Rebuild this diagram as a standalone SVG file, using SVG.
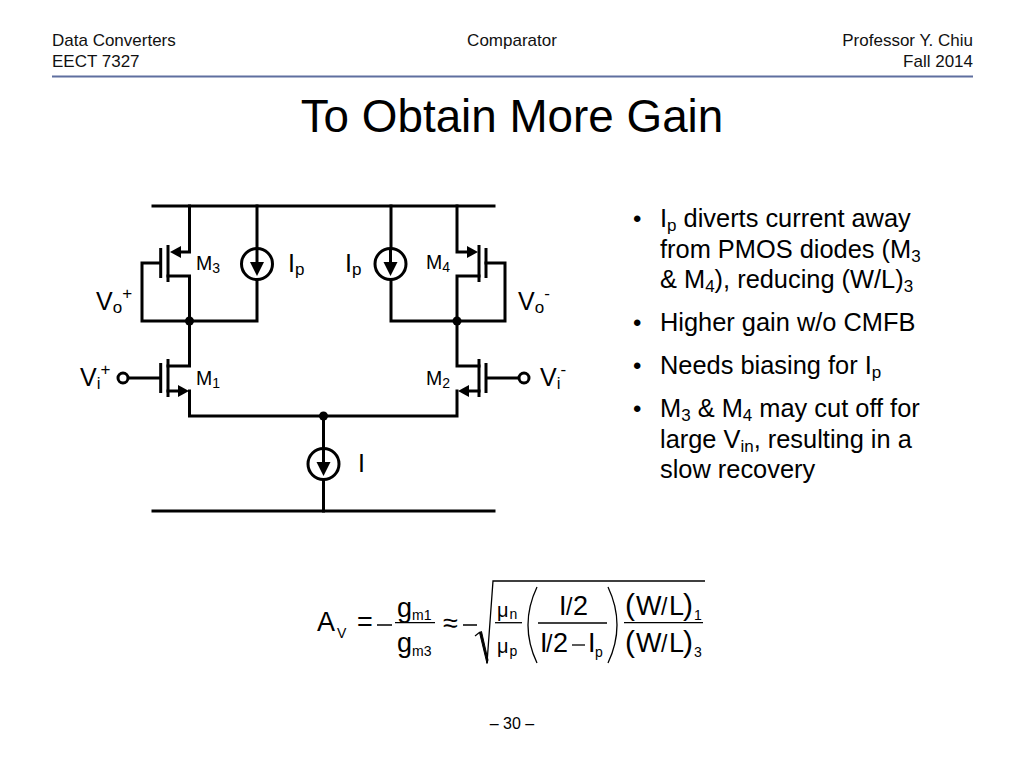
<svg xmlns="http://www.w3.org/2000/svg" width="1024" height="768" viewBox="0 0 1024 768">
<style>
text{font-family:"Liberation Sans",Arial,sans-serif;fill:#000}
.h{font-size:17px;fill:#111}
.b{font-size:25.400px}
.bs{font-size:17px}
.d{font-size:24px}
.l{font-size:25px}
.ls{font-size:17px}
.m{font-size:19.500px}
.ms{font-size:14px}
.e{font-size:27px}
.s{font-size:14px}
.w{fill:none;stroke:#000;stroke-width:3;stroke-linecap:square;stroke-linejoin:miter}
.g{fill:none;stroke:#000;stroke-width:3}
.t{fill:none;stroke:#000;stroke-width:1.300}
</style>
<defs>
<g id="cs"><circle r="15.500" fill="#fff" stroke="#000" stroke-width="3"/><path d="M0-14V0" stroke="#000" stroke-width="3"/><path d="M-7-2H7L0 12Z" fill="#000"/></g>
</defs>
<rect width="1024" height="768" fill="#fff"/>
<g id="header">
<text class="h" x="52" y="45.500">Data Converters</text>
<text class="h" x="52" y="66.500">EECT 7327</text>
<text class="h" x="512" y="45.500" text-anchor="middle">Comparator</text>
<text class="h" x="973" y="45.500" text-anchor="end">Professor Y. Chiu</text>
<text class="h" x="973" y="66.500" text-anchor="end">Fall 2014</text>
<path d="M52 76.500H973" stroke="#5f6f9f" stroke-width="2"/>
<text x="512" y="132" text-anchor="middle" font-size="45.800">To Obtain More Gain</text>
</g>
<g id="connectors">
<path class="w" d="M153 206H494M153 511H494"/>
<path class="w" d="M189.500 206V252H178M168 276H189.500V366H168M142 263H160M142 263V321H257V206M257 280V321M168 391H178M189.500 391V416H457V391M457 206V252H470M479 276H457V366H479M505 263H486M505 263V321H391V206M391 280V321M479 391H470M323.500 416V511"/>
<path class="g" d="M128 378H160M486 378H519"/>
</g>
<g id="M3"><path class="g" d="M160.700 248V278M168 245V282"/><path d="M170 252L181 246V258Z"/><text class="m" x="196" y="270">M<tspan class="ms" dy="3">3</tspan></text></g>
<g id="M4"><path class="g" d="M486 248V278M479 245V282"/><path d="M478 252L467 246V258Z"/><text class="m" x="426" y="269">M<tspan class="ms" dy="3">4</tspan></text></g>
<g id="M1"><path class="g" d="M160.700 363V393M168 359V397"/><path d="M189 391L178 385V397Z"/><text class="m" x="196" y="385">M<tspan class="ms" dy="3">1</tspan></text></g>
<g id="M2"><path class="g" d="M486 363V393M479 359V397"/><path d="M458 391L469 385V397Z"/><text class="m" x="426" y="385">M<tspan class="ms" dy="3">2</tspan></text></g>
<g id="Ip-left"><use href="#cs" x="257" y="264"/><text class="l" x="288" y="272">I<tspan class="ls" dy="3">p</tspan></text></g>
<g id="Ip-right"><use href="#cs" x="390.500" y="264"/><text class="l" x="345" y="272">I<tspan class="ls" dy="3">p</tspan></text></g>
<g id="I"><use href="#cs" x="323.500" y="464"/><text class="l" x="358" y="472">I</text></g>
<g id="Vo-plus"><text class="l" x="96" y="310">V<tspan class="ls" dy="3">o</tspan><tspan class="ls" dy="-14">+</tspan></text></g>
<g id="Vo-minus"><text class="l" x="518" y="310">V<tspan class="ls" dy="3">o</tspan><tspan class="ls" dy="-14">-</tspan></text></g>
<g id="Vi-plus"><circle cx="123" cy="378" r="5" fill="#fff" stroke="#000" stroke-width="3"/><text class="l" x="80" y="386">V<tspan class="ls" dy="3">i</tspan><tspan class="ls" dy="-14">+</tspan></text></g>
<g id="Vi-minus"><circle cx="524" cy="378" r="5" fill="#fff" stroke="#000" stroke-width="3"/><text class="l" x="540" y="386">V<tspan class="ls" dy="3">i</tspan><tspan class="ls" dy="-14">-</tspan></text></g>
<circle cx="189.500" cy="321" r="4.500"/><circle cx="457" cy="321" r="4.500"/><circle cx="323.500" cy="416" r="4.500"/>
<g id="bullets">
<text class="d" x="633" y="227">•</text>
<text class="b" x="660" y="227">I<tspan class="bs" dy="4">p</tspan><tspan dy="-4"> diverts current away</tspan></text>
<text class="b" x="660" y="258">from PMOS diodes (M<tspan class="bs" dy="4">3</tspan></text>
<text class="b" x="660" y="288">&amp; M<tspan class="bs" dy="4">4</tspan><tspan dy="-4">), reducing (W/L)</tspan><tspan class="bs" dy="4">3</tspan></text>
<text class="d" x="633" y="331">•</text>
<text class="b" x="660" y="331">Higher gain w/o CMFB</text>
<text class="d" x="633" y="374">•</text>
<text class="b" x="660" y="374">Needs biasing for I<tspan class="bs" dy="4">p</tspan></text>
<text class="d" x="633" y="417">•</text>
<text class="b" x="660" y="417">M<tspan class="bs" dy="4">3</tspan><tspan dy="-4"> &amp; M</tspan><tspan class="bs" dy="4">4</tspan><tspan dy="-4"> may cut off for</tspan></text>
<text class="b" x="660" y="448">large V<tspan class="bs" dy="4">in</tspan><tspan dy="-4">, resulting in a</tspan></text>
<text class="b" x="660" y="478">slow recovery</text>
</g>
<g id="equation">
<text class="e" x="317" y="631">A</text><text class="s" x="337" y="638" font-size="15">V</text>
<text class="e" x="357" y="631">=</text>
<path class="t" d="M377 625H392M463 625H477"/>
<text class="e" x="397" y="617">g</text><text class="s" x="412" y="620">m1</text>
<text class="e" x="397" y="652">g</text><text class="s" x="412" y="656">m3</text>
<path class="t" d="M395 622.700H435"/>
<text class="e" x="443" y="632">≈</text>
<path class="t" d="M475 636L480 632"/><path d="M479.500 632.500L481.500 631.500L488 660L487 663.500Z" stroke="#000"/><path class="t" d="M487 663L493 581H705"/>
<text x="497" y="617" font-size="20">μ</text><text class="s" x="509.500" y="619">n</text>
<text x="497" y="653" font-size="20">μ</text><text class="s" x="509.500" y="656">p</text>
<path class="t" d="M495 622.700H522"/>
<path class="t" d="M537 587Q519 625 537 663M608 587Q626 625 608 663"/>
<text class="e" x="559" y="615">I<tspan x="566" font-size="23">/</tspan><tspan x="573">2</tspan></text>
<path class="t" d="M538 623H607"/>
<text class="e" x="540" y="652">I<tspan x="546" font-size="23">/</tspan><tspan x="553">2</tspan></text>
<path class="t" d="M572 645H585"/>
<text class="e" x="588" y="652">I</text><text class="s" x="595" y="657">p</text>
<text class="e" y="615"><tspan x="625" font-size="30">(</tspan><tspan x="636">W</tspan><tspan x="661" font-size="23">/</tspan><tspan x="669">L</tspan><tspan x="683" font-size="30">)</tspan></text><text class="s" x="694" y="620">1</text>
<text class="e" y="652"><tspan x="625" font-size="30">(</tspan><tspan x="636">W</tspan><tspan x="661" font-size="23">/</tspan><tspan x="669">L</tspan><tspan x="683" font-size="30">)</tspan></text><text class="s" x="694" y="657">3</text>
<path class="t" d="M624 622.700H703"/>
</g>
<text id="page" x="512" y="729" text-anchor="middle" font-size="16">– 30 –</text>
</svg>
